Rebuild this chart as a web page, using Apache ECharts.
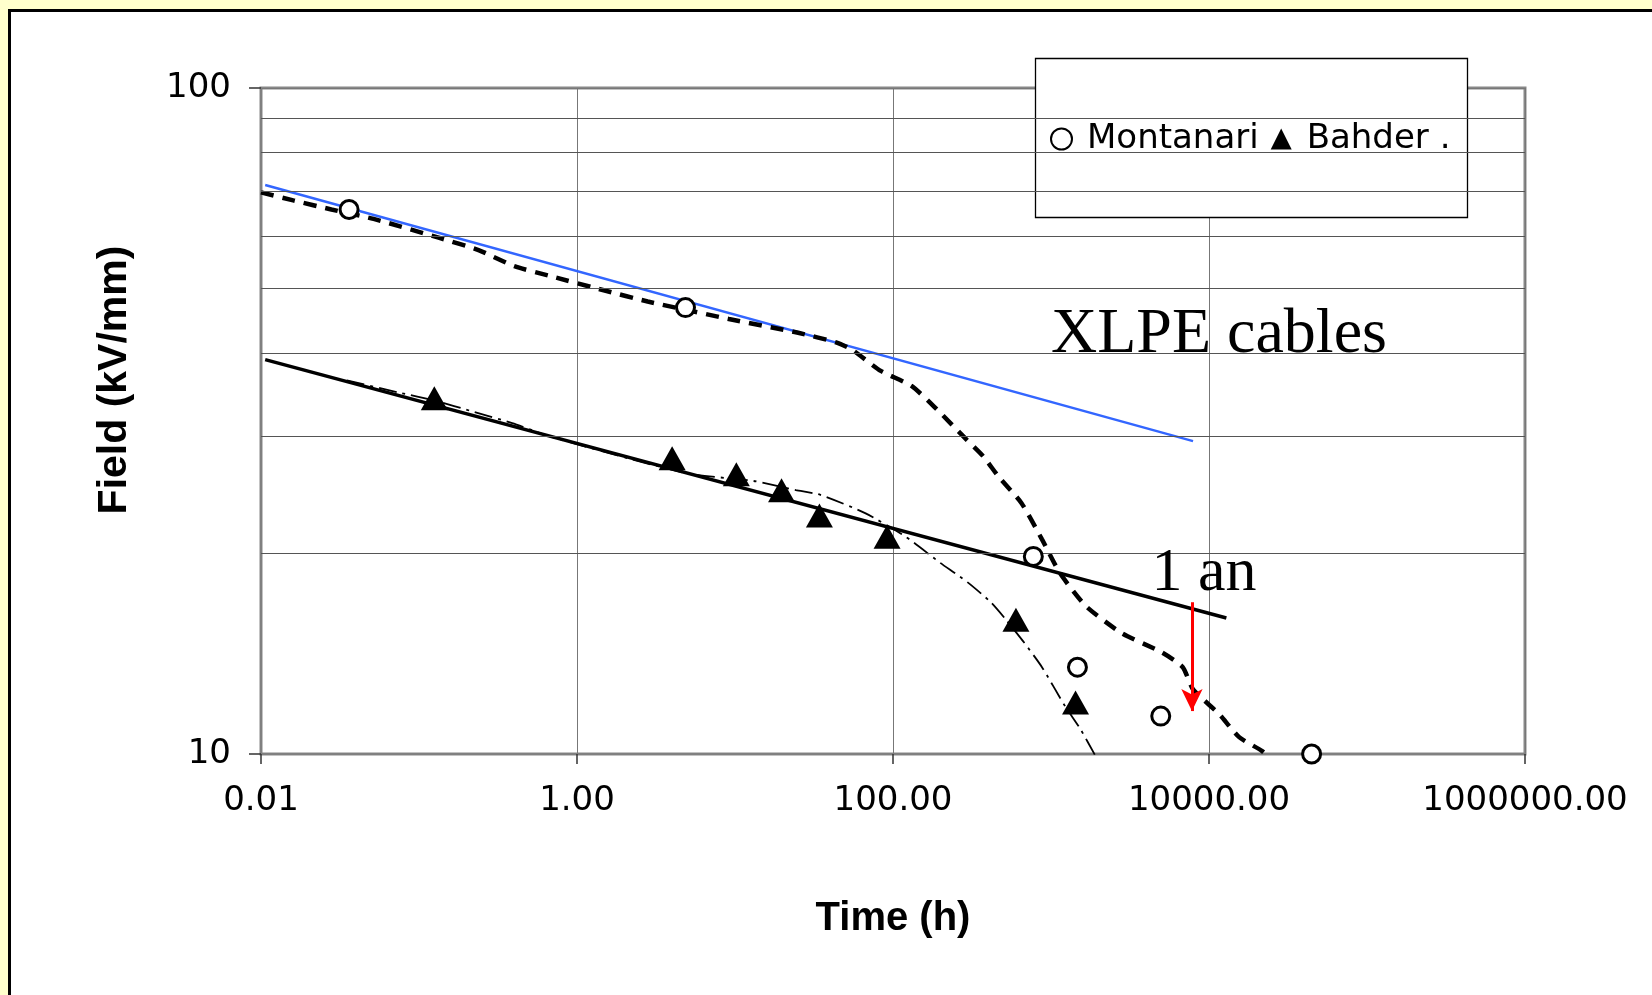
<!DOCTYPE html>
<html><head><meta charset="utf-8">
<script src="https://cdn.jsdelivr.net/npm/echarts@6/dist/echarts.min.js"></script>
<style>html,body{margin:0;padding:0;background:#FFFFCC;overflow:hidden}#c{width:1652px;height:995px}</style>
</head><body><div id="c"></div>
<script>
// ---- data (time in hours, field in kV/mm) ----
const legendNames = ['Montanari', 'Bahder'];
const montanariT = [0.0361, 4.86, 773, 1470, 4950, 44600];
const montanariF = [65.7, 46.8, 19.8, 13.5, 11.4, 10.0];
const bahderT = [0.125, 4.0, 10.2, 19.7, 34.2, 91.7, 600, 1430];
const bahderF = [34.2, 27.8, 26.3, 24.9, 22.8, 21.2, 15.9, 11.95];
const montFitT = [0.01, 0.016, 0.0279, 0.0516, 0.133, 0.238, 0.402, 0.676, 1.476, 2.80, 9.14, 25.1, 43.6, 54.7, 83.7, 131, 190, 286, 372, 465, 651, 877, 1138, 1652, 2786, 5058, 6823, 7925, 11510, 15520, 21700, 26100];
const montFitF = [69.7, 67.8, 65.7, 63.6, 59.6, 57.1, 54.0, 52.2, 49.7, 47.8, 45.0, 42.9, 41.5, 40.5, 37.6, 35.7, 32.9, 29.8, 28.0, 26.1, 23.8, 21.0, 18.7, 16.7, 15.2, 14.2, 13.5, 12.5, 11.5, 10.6, 10.1, 9.7];
const bahderFitT = [0.0349, 0.074, 0.1285, 0.216, 0.389, 0.698, 4.92, 13.1, 24.3, 34.7, 66.6, 120, 197, 297, 416, 520, 676, 877, 1227, 1535, 1892];
const bahderFitF = [36.4, 34.9, 33.9, 32.7, 31.4, 29.9, 26.4, 25.7, 24.9, 24.5, 23.0, 21.2, 19.4, 18.1, 16.9, 15.9, 14.7, 13.5, 11.8, 10.9, 9.98];
const blueT = [0.01063, 7925];
const blueF = [71.5, 29.5];
const solidT = [0.01063, 12880];
const solidF = [39.1, 16.0];
const arrowT = 7800;
const arrowF = [16.9, 11.6];
const yMinorGrid = [20, 30, 40, 50, 60, 70, 80, 90];
const annotXLPE = 'XLPE cables';
const annotYear = '1 an';

const zip = (a, b) => a.map((v, i) => [v, b[i]]);
const chart = echarts.init(document.getElementById('c'));
const option = {
  backgroundColor: '#FFFFCC',
  animation: false,
  graphic: [
    {type: 'rect', z: -10, silent: true, shape: {x: 9.5, y: 10.5, width: 1700, height: 1100}, style: {fill: '#fff', stroke: '#000', lineWidth: 3}},
    {type: 'rect', z: 3, silent: true, shape: {x: 1035.5, y: 58.5, width: 432, height: 159}, style: {fill: '#fff', stroke: '#000', lineWidth: 1.3}},
    {type: 'text', z: 10, x: 1219, y: 335, style: {text: annotXLPE, font: '64px "Liberation Serif"', fill: '#000', textAlign: 'center', textVerticalAlign: 'middle'}},
    {type: 'text', z: 10, x: 1204, y: 574, style: {text: annotYear, font: '62px "Liberation Serif"', fill: '#000', textAlign: 'center', textVerticalAlign: 'middle'}}
  ],
  grid: {left: 261, right: 127, top: 88, bottom: 241, show: true, borderColor: '#888', borderWidth: 3, backgroundColor: 'transparent'},
  legend: {
    data: [{name: legendNames[0], icon: 'circle'}, {name: legendNames[1], icon: 'triangle'}],
    left: 1045, top: 116, itemWidth: 21, itemHeight: 21, itemGap: 12, z: 4, selectedMode: false,
    formatter: n => n === legendNames[1] ? n + ' .' : n,
    textStyle: {fontFamily: 'DejaVu Sans', fontSize: 34, lineHeight: 36, color: '#000', padding: [0, 0, 0, 10]}
  },
  xAxis: {
    type: 'log', logBase: 10, min: 0.01, max: 1000000, interval: 2,
    axisLine: {show: true, lineStyle: {color: '#808080', width: 2}},
    axisTick: {show: true, length: 10, lineStyle: {color: '#333', width: 1.5}},
    axisLabel: {formatter: v => Number(v).toFixed(2), fontFamily: 'DejaVu Sans', fontSize: 34, color: '#000', margin: 30},
    splitLine: {show: true, lineStyle: {color: '#777', width: 1}},
    name: 'Time (h)', nameLocation: 'middle', nameGap: 145,
    nameTextStyle: {fontFamily: 'Liberation Sans', fontWeight: 'bold', fontSize: 40, color: '#000'}
  },
  yAxis: {
    type: 'log', logBase: 10, min: 10, max: 100,
    axisLine: {show: true, lineStyle: {color: '#808080', width: 2}},
    axisTick: {show: true, length: 12, lineStyle: {color: '#333', width: 1.5}},
    axisLabel: {fontFamily: 'DejaVu Sans', fontSize: 34, color: '#000', margin: 30},
    splitLine: {show: true, lineStyle: {color: '#777', width: 1}},
    name: 'Field (kV/mm)', nameLocation: 'middle', nameGap: 126,
    nameTextStyle: {fontFamily: 'Liberation Sans', fontWeight: 'bold', fontSize: 41, color: '#000', padding: [0, 0, 0, 82]}
  },
  series: [
    {type: 'line', name: 'grid', data: [], z: 1, silent: true,
     markLine: {silent: true, animation: false, symbol: ['none', 'none'], label: {show: false},
       lineStyle: {color: '#555', width: 1, type: 'solid'}, data: yMinorGrid.map(v => ({yAxis: v}))}},
    {type: 'line', name: 'fitBlue', data: zip(blueT, blueF), symbol: 'none', z: 2,
     lineStyle: {color: '#3366ff', width: 2.5}},
    {type: 'line', name: 'fitSolid', data: zip(solidT, solidF), symbol: 'none', z: 2,
     lineStyle: {color: '#000', width: 3.5}},
    {type: 'line', name: 'fitMontanari', data: zip(montFitT, montFitF), symbol: 'none', z: 2, smooth: 0.2,
     lineStyle: {color: '#000', width: 4.5, type: [13, 9]}},
    {type: 'line', name: 'fitBahder', data: zip(bahderFitT, bahderFitF), symbol: 'none', z: 2, smooth: 0.2,
     lineStyle: {color: '#000', width: 1.8, type: [18, 6, 3, 6]}},
    {type: 'line', name: 'arrow', data: [], z: 2, silent: true,
     markLine: {silent: true, animation: false, symbol: ['none', 'arrow'], symbolSize: [16, 22], label: {show: false},
       lineStyle: {color: '#ff0000', width: 3, type: 'solid', opacity: 1},
       data: [[{coord: [arrowT, arrowF[0]]}, {coord: [arrowT, arrowF[1]]}]]}},
    {type: 'scatter', name: legendNames[0], data: zip(montanariT, montanariF), symbol: 'circle', symbolSize: 18, z: 5,
     itemStyle: {color: '#fff', borderColor: '#000', borderWidth: 3, opacity: 1}},
    {type: 'scatter', name: legendNames[1], data: zip(bahderT, bahderF), symbol: 'triangle', symbolSize: [27, 24], z: 5,
     itemStyle: {color: '#000', opacity: 1}}
  ]
};
chart.setOption(option);
</script></body></html>
